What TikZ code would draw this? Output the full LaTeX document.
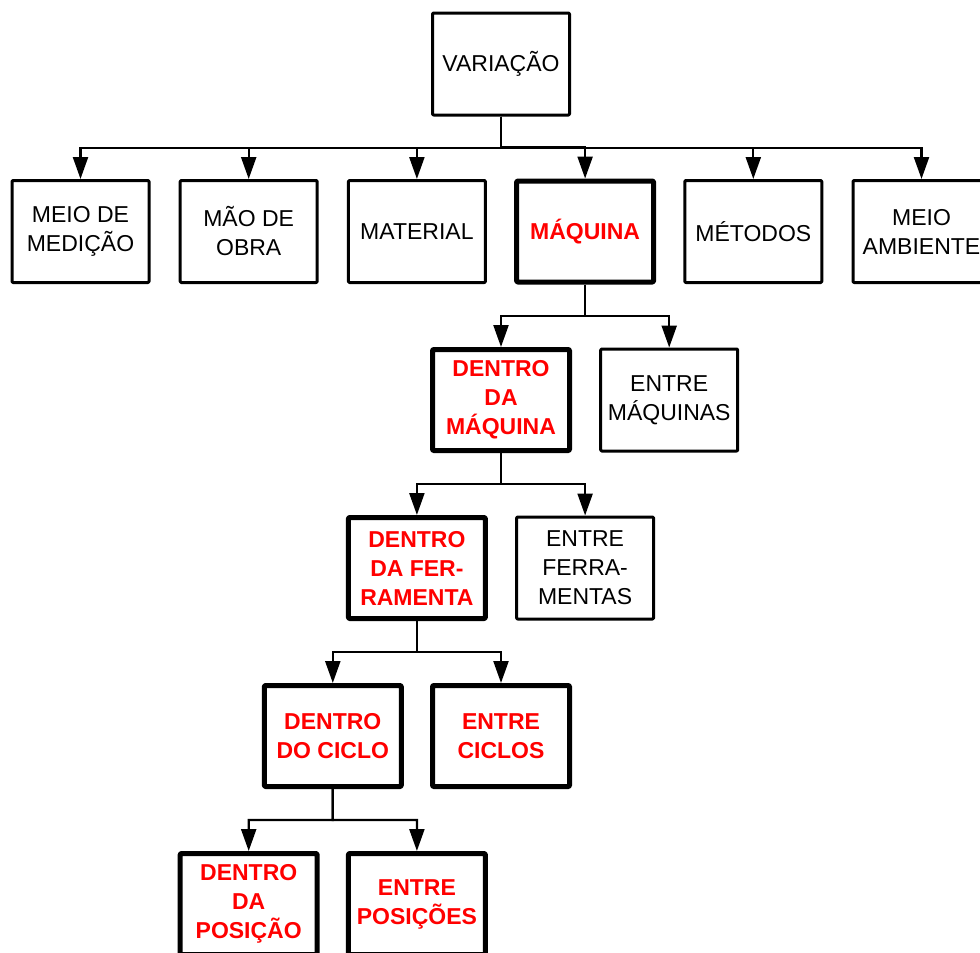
\documentclass[tikz,border=0pt]{standalone}
\usepackage{fontspec}
\setmainfont{Liberation Sans}
\usetikzlibrary{arrows.meta,calc}
\definecolor{hotred}{RGB}{255,0,0}
\tikzset{
  box/.style={draw, line width=3pt, minimum width=137pt, minimum height=102pt,
    inner sep=0pt, align=center, line join=round, rounded corners=1pt,
    font=\fontsize{23}{29}\selectfont},
  hot/.style={box, line width=5pt, minimum height=101pt, text=hotred,
    font=\fontsize{23}{29}\selectfont\bfseries},
  conn/.style={line width=2.3pt, -{Triangle[length=22pt,width=15pt]}},
}
\begin{document}
\begin{tikzpicture}[x=1pt,y=-1pt]
\useasboundingbox (0,0) rectangle (980,953);
\clip (0,0) rectangle (980,953);
% top
\node[box] (var) at (501,64) {VARIAÇÃO};
% row 1
\node[box] (med) at (80.5,231.5) {MEIO DE\\MEDIÇÃO};
\node[box] (mao) at (248.7,231.5) {MÃO DE\\OBRA};
\node[box] (mat) at (416.9,231.5) {MATERIAL};
\node[hot] (maq) at (585.1,231.5) {MÁQUINA};
\node[box] (met) at (753.3,231.5) {MÉTODOS};
\node[box] (amb) at (921.5,231.5) {MEIO\\AMBIENTE};
% row 2
\node[hot] (dmaq) at (501,400) {DENTRO\\DA\\MÁQUINA};
\node[box] (emaq) at (669.2,400) {ENTRE\\MÁQUINAS};
% row 3
\node[hot] (dfer) at (416.9,568) {DENTRO\\DA FER-\\RAMENTA};
\node[box] (efer) at (585.1,568) {ENTRE\\FERRA-\\MENTAS};
% row 4
\node[hot] (dcic) at (332.8,736) {DENTRO\\DO CICLO};
\node[hot] (ecic) at (501,736) {ENTRE\\CICLOS};
% row 5
\node[hot] (dpos) at (248.7,904) {DENTRO\\DA\\POSIÇÃO};
\node[hot] (epos) at (416.9,904) {ENTRE\\POSIÇÕES};
% connectors
\foreach \c in {med,mao,mat,maq,met,amb}
  \draw[conn] (var.south) -- ($(var.south)!0.5!(var.south |- \c.north)$) -| (\c.north);
\foreach \c in {dmaq,emaq}
  \draw[conn] (maq.south) -- ($(maq.south)!0.5!(maq.south |- \c.north)$) -| (\c.north);
\foreach \c in {dfer,efer}
  \draw[conn] (dmaq.south) -- ($(dmaq.south)!0.5!(dmaq.south |- \c.north)$) -| (\c.north);
\foreach \c in {dcic,ecic}
  \draw[conn] (dfer.south) -- ($(dfer.south)!0.5!(dfer.south |- \c.north)$) -| (\c.north);
\foreach \c in {dpos,epos}
  \draw[conn] (dcic.south) -- ($(dcic.south)!0.5!(dcic.south |- \c.north)$) -| (\c.north);
\end{tikzpicture}
\end{document}
